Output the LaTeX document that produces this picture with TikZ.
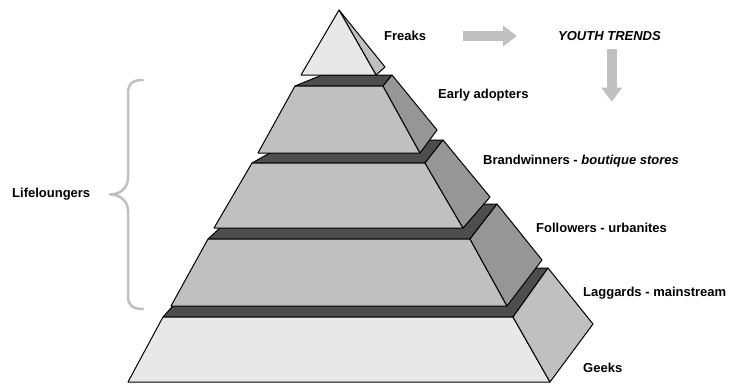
\documentclass[tikz,border=0pt]{standalone}
\usepackage{fontspec}
\setmainfont{Liberation Sans}
\usetikzlibrary{arrows.meta}
\definecolor{facelight}{HTML}{E8E8E8}
\definecolor{facemid}{HTML}{C0C0C0}
\definecolor{sidedark}{HTML}{969696}
\definecolor{topdark}{HTML}{4D4D4D}
\definecolor{accent}{HTML}{C0C0C0}
\begin{document}
\begin{tikzpicture}[x=1pt,y=-1pt,line join=round,
  face/.style={draw=black,line width=1pt},
  label/.style={anchor=west,inner sep=0pt,font=\fontsize{13}{15}\selectfont\bfseries},
  flowarrow/.style={draw=accent,line width=10pt,-{Triangle[width=20pt,length=14pt]}},
  bracket/.style={draw=accent,line width=2.5pt,line cap=round}]
\useasboundingbox (0,0) rectangle (731,383);

% base tier: Geeks
\filldraw[face,fill=topdark]   (163,317) -- (207,268) -- (548,268) -- (513,317) -- cycle;
\filldraw[face,fill=facelight] (163,317) -- (513,317) -- (550,382) -- (128,382) -- cycle;
\filldraw[face,fill=facemid]   (513,317) -- (548,268) -- (593,324) -- (550,382) -- cycle;

% third tier: Laggards
\filldraw[face,fill=topdark]   (208,239) -- (246,204) -- (497,204) -- (470,239) -- cycle;
\filldraw[face,fill=facemid]   (208,239) -- (470,239) -- (507,306) -- (171,306) -- cycle;
\filldraw[face,fill=sidedark]  (470,239) -- (497,204) -- (542,260) -- (507,306) -- cycle;

% second tier: Followers
\filldraw[face,fill=topdark]   (252,163) -- (293,140) -- (443,140) -- (425,163) -- cycle;
\filldraw[face,fill=facemid]   (252,163) -- (425,163) -- (463,228) -- (214,228) -- cycle;
\filldraw[face,fill=sidedark]  (425,163) -- (443,140) -- (490,197) -- (463,228) -- cycle;

% first tier: Brandwinners / Early adopters
\filldraw[face,fill=topdark]   (295,86) -- (322,75) -- (392,75) -- (383,86) -- cycle;
\filldraw[face,fill=facemid]   (295,86) -- (383,86) -- (420,153) -- (258,153) -- cycle;
\filldraw[face,fill=sidedark]  (383,86) -- (392,75) -- (437,130) -- (420,153) -- cycle;

% apex: Freaks
\filldraw[face,fill=facemid]   (339,10) -- (385,67) -- (376,75) -- cycle;
\filldraw[face,fill=facelight] (339,10) -- (376,75) -- (301,75) -- cycle;

% labels
\node[label] (freaks)   at (384,36)    {Freaks};
\node[label,font=\fontsize{13}{15}\selectfont\bfseries\itshape] (youth) at (558,36) {YOUTH TRENDS};
\node[label] (early)    at (438,95)    {Early adopters};
\node[label] (brand)    at (483,161.5) {Brandwinners - \textit{boutique stores}};
\node[label] (follow)   at (536,227.5) {Followers - urbanites};
\node[label] (laggards) at (583,293.5) {Laggards - mainstream};
\node[label] (geeks)    at (583,367.5) {Geeks};
\node[label] (life)     at (12,194)    {Lifeloungers};

% trend arrows
\coordinate (a1s) at (463,36);
\coordinate (a1e) at (517,36);
\coordinate (a2s) at (611.7,49);
\coordinate (a2e) at (611.7,101.7);
\draw[flowarrow] (a1s) -- (a1e);
\draw[flowarrow] (a2s) -- (a2e);

% brace grouping the middle tiers
\coordinate (btop) at (143,80);
\coordinate (btip) at (110,194.5);
\coordinate (bbot) at (143,309);
\draw[bracket] (btop) .. controls (132,80) and (128,84) .. (128,94)
  -- (128,178) .. controls (128,188) and (120,194.5) .. (btip)
  .. controls (120,194.5) and (128,201) .. (128,211)
  -- (128,296) .. controls (128,305) and (132,309) .. (bbot);
\end{tikzpicture}
\end{document}
